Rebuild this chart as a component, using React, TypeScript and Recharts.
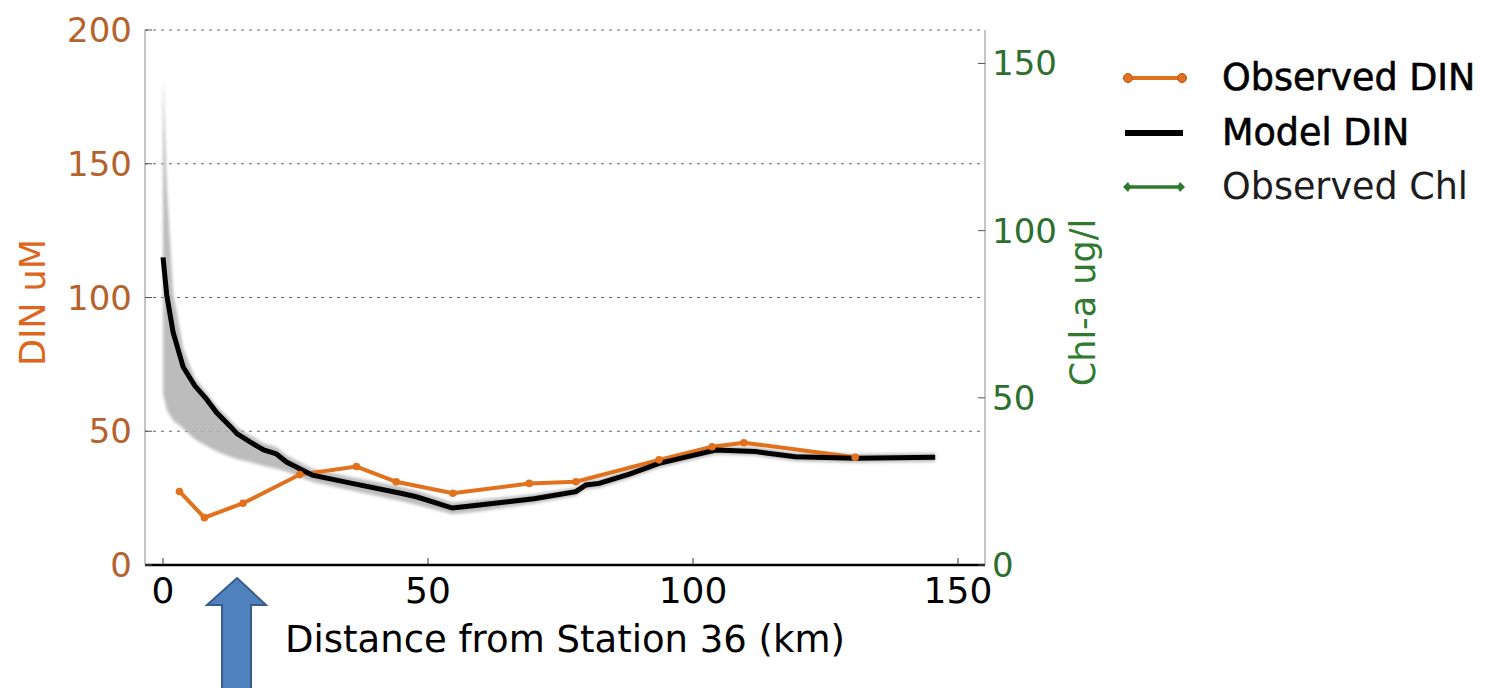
import React from 'react';
import {
  Area,
  CartesianGrid,
  ComposedChart,
  Legend,
  Line,
  XAxis,
  YAxis,
} from 'recharts';

const FONT = '"DejaVu Sans", Verdana, sans-serif';
const ORANGE = '#E2711D';
const GREEN = '#2E7A2E';
const LEFT_TICK = '#B5622C';
const RIGHT_TICK = '#2E6E2E';

// model DIN (km, uM) with its spread
const modelX = [0, 0.7, 1.9, 3.8, 6, 8.2, 10.1, 12.6, 14, 16.4, 19, 21.4, 23.3, 28.2, 35.2, 44.6, 47.8, 54.6, 59.7, 70, 77.9, 79.8, 82.3, 88, 93.6, 99, 104.3, 111.8, 119.3, 130.6, 145.7];
const modelDin = [115, 101, 87, 74, 67, 62, 57, 52, 49, 46, 43, 41.5, 38.5, 33.6, 30.7, 26.9, 25.5, 21.3, 22.4, 24.8, 27.4, 29.9, 30.5, 34, 38, 40.5, 43, 42.4, 40.5, 39.9, 40.3];
const bandLow = [64, 58, 54, 51, 47, 44.5, 42.5, 40.5, 39.5, 38.5, 37, 36, 35, 31, 28, 24, 22.5, 19, 20, 23, 25.8, 28.2, 28.8, 32.3, 36.3, 38.8, 41.3, 40.8, 38.8, 38.2, 38.6];
const bandHigh = [183, 142, 102, 81, 70, 64.5, 59.5, 54.5, 51.5, 48.5, 45.5, 44, 41, 36, 33, 29.3, 27.8, 23.4, 24.4, 26.5, 29, 31.5, 32.1, 35.6, 39.6, 42.1, 44.6, 44, 42.1, 41.5, 41.9];

// observed DIN at stations
const obsX = [3.1, 7.8, 15.1, 25.8, 36.5, 44, 54.7, 69.1, 77.9, 93.6, 103.6, 109.6, 130.6];
const obsDin = [27.5, 17.7, 23.1, 33.8, 36.8, 31.1, 26.8, 30.5, 31.1, 39.3, 44.2, 45.7, 40.3];

// observed Chl (nothing visible in the plotted range)
const chlX: number[] = [];
const chlVals: number[] = [];

const xTicks = [0, 50, 100, 150];
const dinTicks = [0, 50, 100, 150, 200];
const chlTicks = [0, 50, 100, 150];

const modelRows = modelX.map((x, i) => ({
  x,
  model: modelDin[i],
  band: [bandLow[i], bandHigh[i]],
}));
const obsRows = obsX.map((x, i) => ({ x, obs: obsDin[i] }));
const chlRows = chlX.map((x, i) => ({ x, chl: chlVals[i] }));

const legendItems = [
  { name: 'Observed DIN', kind: 'obs', heavy: true },
  { name: 'Model DIN', kind: 'model', heavy: true },
  { name: 'Observed Chl', kind: 'chl', heavy: false },
];

function XTick({ x, y, payload }: any) {
  return (
    <text x={x} y={y} dy={35} textAnchor="middle" fontSize={36} fontFamily={FONT} fill="#000">
      {payload.value}
    </text>
  );
}

function DinTick({ x, y, payload }: any) {
  return (
    <text x={x} y={y} dy={12} textAnchor="end" fontSize={34} fontFamily={FONT} fill={LEFT_TICK}>
      {payload.value}
    </text>
  );
}

function ChlTick({ x, y, payload }: any) {
  return (
    <text x={x} y={y} dy={12} textAnchor="start" fontSize={34} fontFamily={FONT} fill={RIGHT_TICK}>
      {payload.value}
    </text>
  );
}

function SideTitle({ viewBox, text, color, dx, size }: any) {
  const cx = viewBox.x + dx;
  const cy = viewBox.y + viewBox.height / 2 + 5;
  return (
    <text
      x={cx}
      y={cy}
      transform={`rotate(-90 ${cx} ${cy})`}
      textAnchor="middle"
      dominantBaseline="central"
      fontSize={size}
      fontFamily={FONT}
      fill={color}
    >
      {text}
    </text>
  );
}

function BottomTitle({ viewBox }: any) {
  return (
    <text
      x={viewBox.x + viewBox.width / 2}
      y={viewBox.y + 87}
      textAnchor="middle"
      fontSize={37}
      fontFamily={FONT}
      fill="#000"
    >
      Distance from Station 36 (km)
    </text>
  );
}

function LegendIcon({ kind }: { kind: string }) {
  if (kind === 'obs') {
    return (
      <svg width={66} height={16}>
        <line x1={6} y1={8} x2={60} y2={8} stroke={ORANGE} strokeWidth={4} />
        <circle cx={6} cy={8} r={4.5} fill={ORANGE} stroke="#B3561A" strokeWidth={1} />
        <circle cx={60} cy={8} r={4.5} fill={ORANGE} stroke="#B3561A" strokeWidth={1} />
      </svg>
    );
  }
  if (kind === 'model') {
    return (
      <svg width={66} height={16}>
        <line x1={3} y1={8} x2={61} y2={8} stroke="#000" strokeWidth={6} />
      </svg>
    );
  }
  return (
    <svg width={66} height={16}>
      <line x1={4} y1={8} x2={60} y2={8} stroke={GREEN} strokeWidth={3.5} />
      <polygon points="1,8 6,3 9,8 6,13" fill={GREEN} />
      <polygon points="63,8 58,3 55,8 58,13" fill={GREEN} />
    </svg>
  );
}

function ChartLegend() {
  return (
    <div style={{ fontFamily: FONT }}>
      {legendItems.map((item) => (
        <div key={item.name} style={{ display: 'flex', alignItems: 'center', height: 54.5 }}>
          <LegendIcon kind={item.kind} />
          <span
            style={{
              marginLeft: 34,
              fontSize: 36.5,
              lineHeight: '40px',
              color: item.heavy ? '#000' : '#1c1c1c',
              WebkitTextStroke: item.heavy ? '0.6px #000' : undefined,
              whiteSpace: 'nowrap',
            }}
          >
            {item.name}
          </span>
        </div>
      ))}
    </div>
  );
}

function Arrow() {
  return (
    <svg
      width={1495}
      height={688}
      style={{ position: 'absolute', left: 0, top: 0, pointerEvents: 'none' }}
    >
      <polygon
        points="237,578 266,605 251,605 251,690 222,690 222,605 207,605"
        fill="#4F81BD"
        stroke="#385D8A"
        strokeWidth={2}
      />
    </svg>
  );
}

export default function App() {
  return (
    <div style={{ position: 'absolute', left: 0, top: 0, width: 1495, height: 688, background: '#fff' }}>
      <ComposedChart
        width={1495}
        height={688}
        data={modelRows}
        margin={{ top: 30, right: 0, left: 0, bottom: 0 }}
      >
        <defs>
          <filter id="bandBlur" x="-20%" y="-20%" width="140%" height="140%">
            <feGaussianBlur stdDeviation="1.8" />
          </filter>
        </defs>
        <CartesianGrid
          yAxisId="din"
          vertical={false}
          stroke="#666"
          strokeDasharray="3 5"
          horizontalValues={dinTicks}
        />
        <XAxis
          dataKey="x"
          type="number"
          domain={[-3.4, 155.1]}
          ticks={xTicks}
          allowDataOverflow
          height={123}
          tickSize={-7}
          tickMargin={10}
          tick={<XTick />}
          axisLine={{ stroke: '#000', strokeWidth: 2.5 }}
          tickLine={{ stroke: '#333' }}
          label={<BottomTitle />}
        />
        <YAxis
          yAxisId="din"
          domain={[0, 200]}
          ticks={dinTicks}
          allowDataOverflow
          width={145}
          tickSize={-7}
          tickMargin={20}
          tick={<DinTick />}
          axisLine={{ stroke: '#8a8a8a' }}
          tickLine={{ stroke: '#555' }}
          label={<SideTitle text="DIN uM" color="#DD661C" dx={33} size={35} />}
        />
        <YAxis
          yAxisId="chl"
          orientation="right"
          type="number"
          domain={[0, 160]}
          ticks={chlTicks}
          allowDataOverflow
          width={510}
          tickSize={-7}
          tickMargin={14}
          tick={<ChlTick />}
          axisLine={{ stroke: '#8a8a8a' }}
          tickLine={{ stroke: '#555' }}
          label={<SideTitle text="Chl-a ug/l" color="#2F7A2F" dx={98} size={35} />}
        />
        <Legend
          layout="vertical"
          align="center"
          verticalAlign="middle"
          wrapperStyle={{ left: 1122, top: 51, width: 373 }}
          content={<ChartLegend />}
        />
        <Line
          yAxisId="din"
          data={obsRows}
          dataKey="obs"
          type="linear"
          stroke={ORANGE}
          strokeWidth={4}
          dot={{ r: 1.8, fill: ORANGE, stroke: ORANGE }}
          isAnimationActive={false}
        />
        <Area
          yAxisId="din"
          dataKey="band"
          type="linear"
          stroke="none"
          fill="#B0B0B0"
          fillOpacity={0.85}
          filter="url(#bandBlur)"
          legendType="none"
          isAnimationActive={false}
        />
        <Line
          yAxisId="din"
          dataKey="model"
          type="linear"
          stroke="#000"
          strokeWidth={5}
          dot={false}
          isAnimationActive={false}
        />
        <Line
          yAxisId="chl"
          data={chlRows}
          dataKey="chl"
          type="linear"
          stroke={GREEN}
          strokeWidth={3}
          dot={false}
          isAnimationActive={false}
        />
      </ComposedChart>
      <Arrow />
    </div>
  );
}
